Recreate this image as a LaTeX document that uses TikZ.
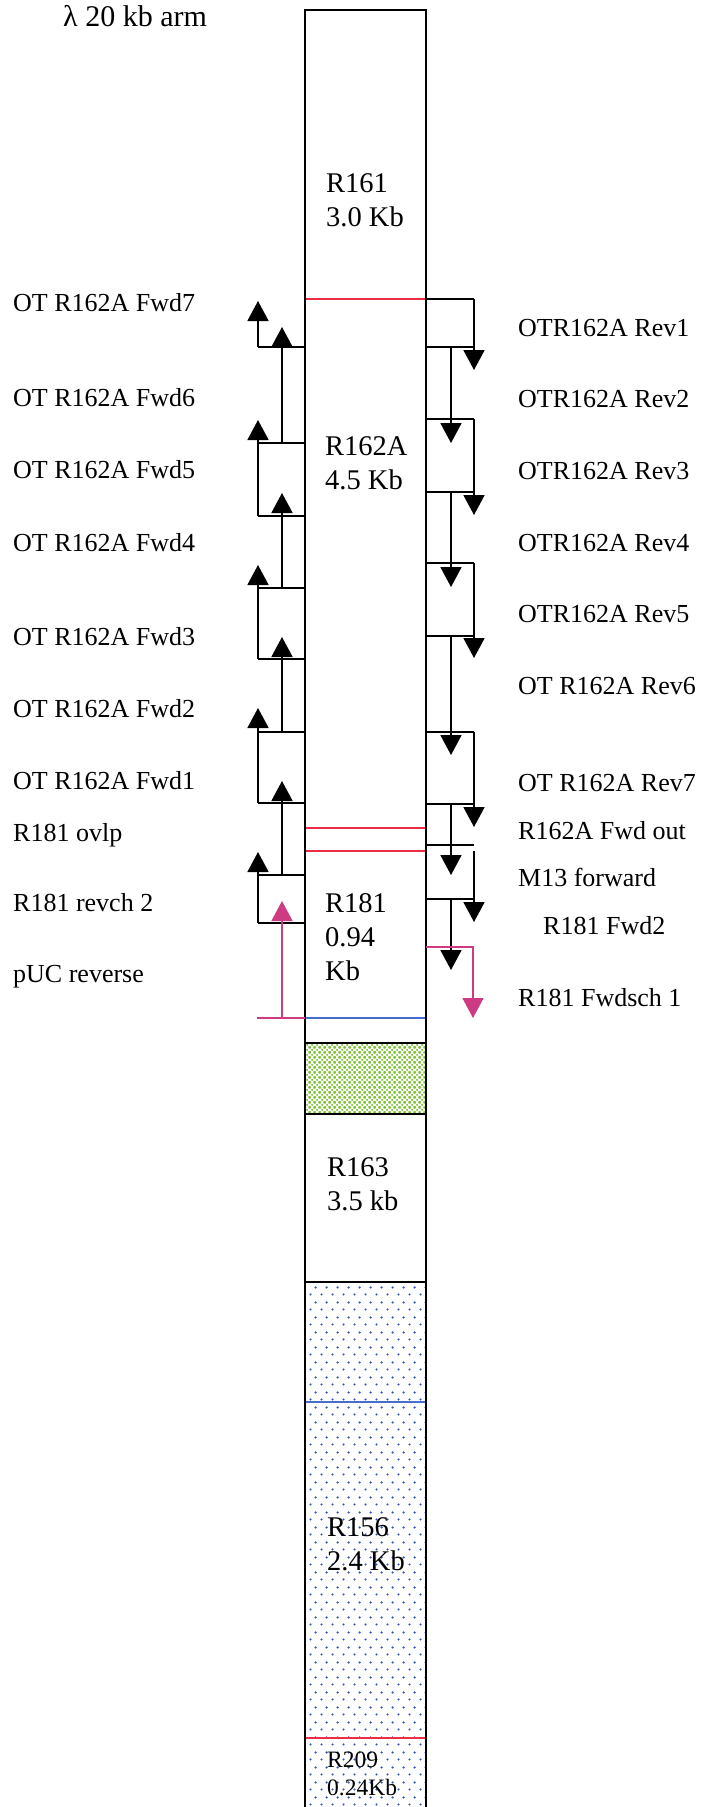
\documentclass[tikz,border=0pt]{standalone}
\usepackage{fontspec}
\setmainfont{Liberation Serif}
\usetikzlibrary{arrows.meta,patterns.meta}

\definecolor{primpink}{RGB}{205,60,130}
\definecolor{cutred}{RGB}{235,45,70}
\definecolor{cutblue}{RGB}{70,110,210}
\definecolor{hatchgreen}{RGB}{120,190,45}
\definecolor{dotblue}{RGB}{55,85,190}

\tikzdeclarepattern{
  name=bluedots, type=uncolored,
  bounding box={(0pt,0pt) and (11pt,15pt)},
  tile size={(11pt,15pt)},
  code={
    \fill (2.75pt,3.75pt) circle (1.3pt);
    \fill (8.25pt,11.25pt) circle (1.3pt);
  }
}
\tikzdeclarepattern{
  name=greenchecks, type=uncolored,
  bounding box={(0pt,0pt) and (5pt,5pt)},
  tile size={(5pt,5pt)},
  code={
    \fill (0pt,0pt) circle (1.3pt);
    \fill (5pt,0pt) circle (1.3pt);
    \fill (0pt,5pt) circle (1.3pt);
    \fill (5pt,5pt) circle (1.3pt);
    \fill (2.5pt,2.5pt) circle (1.3pt);
  }
}

\begin{document}
\begin{tikzpicture}[
  x=1pt, y=-1pt,
  >={Triangle[width=21pt,length=20pt]},
  font=\fontsize{26}{30}\selectfont,
  lbl/.style={anchor=base west, inner sep=0pt},
  seglbl/.style={anchor=west, align=left, inner sep=0pt,
                 font=\fontsize{28.5}{34}\selectfont},
  wire/.style={line width=1.8pt, draw=black},
  prim/.style={wire, ->},
  pinkprim/.style={prim, draw=primpink},
  cut/.style={line width=1.5pt},
]
\useasboundingbox (0,0) rectangle (701,1807);

% column
\coordinate (ctl) at (305,10);
\coordinate (ctr) at (426,10);
\coordinate (cbl) at (305,1807);
\coordinate (cbr) at (426,1807);
\fill[fill=hatchgreen!20, pattern=greenchecks, pattern color=hatchgreen] (305,1043) rectangle (426,1114);
\fill[pattern=bluedots, pattern color=dotblue] (305,1282) rectangle (cbr);
\draw[cut, draw=cutred] (305,299) -- (426,299);
\draw[cut, draw=cutred] (305,828) -- (426,828);
\draw[cut, draw=cutred] (305,851) -- (426,851);
\draw[cut, draw=cutblue] (305,1018) -- (426,1018);
\draw[cut, draw=cutblue] (305,1402) -- (426,1402);
\draw[cut, draw=cutred] (305,1738) -- (426,1738);
\draw[wire] (305,1043) -- (426,1043);
\draw[wire] (305,1114) -- (426,1114);
\draw[wire] (305,1282) -- (426,1282);
\draw[wire] (cbl) -- (ctl) -- (ctr) -- (cbr);

\node[anchor=base west, inner sep=0pt, font=\fontsize{30}{34}\selectfont] (arm) at (63,26) {λ 20 kb arm};
\node[seglbl] (r161) at (326,200) {R161\\3.0 Kb};
\node[seglbl] (r162a) at (325,463) {R162A\\4.5 Kb};
\node[seglbl] (r181) at (325,937) {R181\\0.94\\Kb};
\node[seglbl] (r163) at (327,1184) {R163\\3.5 kb};
\node[seglbl] (r156) at (327,1544) {R156\\2.4 Kb};
\node[seglbl, font=\fontsize{23.5}{28}\selectfont] (r209) at (327,1774) {R209\\0.24Kb};

% forward primers, left of the column
\foreach \nm/\ys/\yt/\xx in {fwd7/347/301/258, fwd6/443/327/282, fwd5/516/420/258,
    fwd4/588/493/282, fwd3/659/565/258, fwd2/732/637/282, fwd1/803/708/258,
    ovlp/875/781/282, revch/923/852/258} {
  \coordinate (s\nm) at (305,\ys);
  \coordinate (t\nm) at (\xx,\yt);
  \draw[wire] (s\nm) -- (258,\ys);
  \draw[prim] (s\nm -| t\nm) -- (t\nm);
}
\coordinate (spuc) at (305,1018);
\coordinate (tpuc) at (282,901);
\draw[cut, draw=primpink] (spuc) -- (257,1018);
\draw[pinkprim, cut] (spuc -| tpuc) -- (tpuc);

% reverse primers, right of the column
\foreach \nm/\ys/\yt/\xx in {rev1/299/370/474, rev2/347/443/451, rev3/419/515/474,
    rev4/492/587/451, rev5/563/658/474, rev6/636/755/451, rev7/732/827/474,
    fout/804/875/451, rfwd2/899/970/451} {
  \coordinate (s\nm) at (426,\ys);
  \coordinate (t\nm) at (\xx,\yt);
  \draw[wire] (s\nm) -- (474,\ys);
  \draw[prim] (s\nm -| t\nm) -- (t\nm);
}
\coordinate (sm13) at (426,845);
\coordinate (tm13) at (474,922);
\draw[wire] (sm13) -- (474,845);
\draw[prim] (474,851) -- (tm13);
\coordinate (ssch) at (426,947);
\coordinate (tsch) at (473,1018);
\draw[pinkprim, cut] (ssch) -| (tsch);

\node[lbl] (lfwd7) at (13,311) {OT R162A Fwd7};
\node[lbl] (lfwd6) at (13,406) {OT R162A Fwd6};
\node[lbl] (lfwd5) at (13,478) {OT R162A Fwd5};
\node[lbl] (lfwd4) at (13,551) {OT R162A Fwd4};
\node[lbl] (lfwd3) at (13,645) {OT R162A Fwd3};
\node[lbl] (lfwd2) at (13,717) {OT R162A Fwd2};
\node[lbl] (lfwd1) at (13,789) {OT R162A Fwd1};
\node[lbl] (lovlp) at (13,841) {R181 ovlp};
\node[lbl] (lrevch) at (13,911) {R181 revch 2};
\node[lbl] (lpuc) at (13,982) {pUC reverse};

\node[lbl] (lrev1) at (518,336) {OTR162A Rev1};
\node[lbl] (lrev2) at (518,407) {OTR162A Rev2};
\node[lbl] (lrev3) at (518,479) {OTR162A Rev3};
\node[lbl] (lrev4) at (518,551) {OTR162A Rev4};
\node[lbl] (lrev5) at (518,622) {OTR162A Rev5};
\node[lbl] (lrev6) at (518,694) {OT R162A Rev6};
\node[lbl] (lrev7) at (518,791) {OT R162A Rev7};
\node[lbl] (lfout) at (518,839) {R162A Fwd out};
\node[lbl] (lm13) at (518,886) {M13 forward};
\node[lbl] (lrfwd2) at (543,934) {R181 Fwd2};
\node[lbl] (lsch) at (518,1006) {R181 Fwdsch 1};
\end{tikzpicture}
\end{document}
